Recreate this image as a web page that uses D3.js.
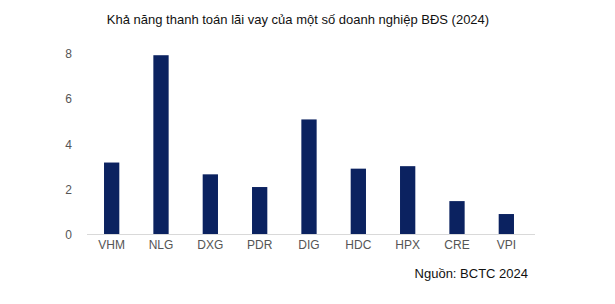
<!DOCTYPE html>
<html><head><meta charset="utf-8">
<script src="https://cdn.jsdelivr.net/npm/d3@7"></script>
<style>body{margin:0;background:#fff;} svg{display:block;}</style>
</head><body>
<svg id="c" width="615" height="304"></svg>
<script>
const categories = ["VHM","NLG","DXG","PDR","DIG","HDC","HPX","CRE","VPI"];
const values = [3.15, 7.88, 2.63, 2.07, 5.05, 2.88, 2.99, 1.45, 0.88];
const yTicks = [0, 2, 4, 6, 8];
const title = "Khả năng thanh toán lãi vay của một số doanh nghiệp BĐS (2024)";
const source = "Nguồn: BCTC 2024";

const svg = d3.select("#c");
const font = "Liberation Sans, Arial, Helvetica, sans-serif";
const x = d3.scaleBand().domain(categories).range([87, 531]).paddingInner(0.69).paddingOuter(0.345);
const y = d3.scaleLinear().domain([0, 8]).range([234, 52.5]);

svg.append("text").attr("x", 298).attr("y", 24).attr("text-anchor", "middle")
  .attr("font-family", font).attr("font-size", 13).attr("fill", "#111").text(title);

svg.selectAll("rect.bar").data(values).join("rect").attr("class","bar")
  .attr("x", (d,i) => x(categories[i])).attr("width", x.bandwidth())
  .attr("y", d => y(d)).attr("height", d => y(0) - y(d)).attr("fill", "#0b2260");

const yAxis = d3.axisLeft(y).tickValues(yTicks).tickSize(0).tickPadding(0).tickFormat(d3.format("d"));
const gy = svg.append("g").attr("transform", "translate(72,1)").call(yAxis);
gy.select(".domain").remove();
gy.selectAll("text").attr("font-family", font).attr("font-size", 12).attr("fill", "#555");

const xAxis = d3.axisBottom(x).tickSize(0).tickPadding(6);
const gx = svg.append("g").attr("transform", "translate(0,234)").call(xAxis);
gx.select(".domain").attr("stroke", "#d9d9d9").attr("d", "M87,0.5H535");
gx.selectAll("text").attr("font-family", font).attr("font-size", 12).attr("fill", "#555");

svg.append("text").attr("x", 528).attr("y", 278).attr("text-anchor", "end")
  .attr("font-family", font).attr("font-size", 13).attr("fill", "#111").text(source);
</script>
</body></html>
